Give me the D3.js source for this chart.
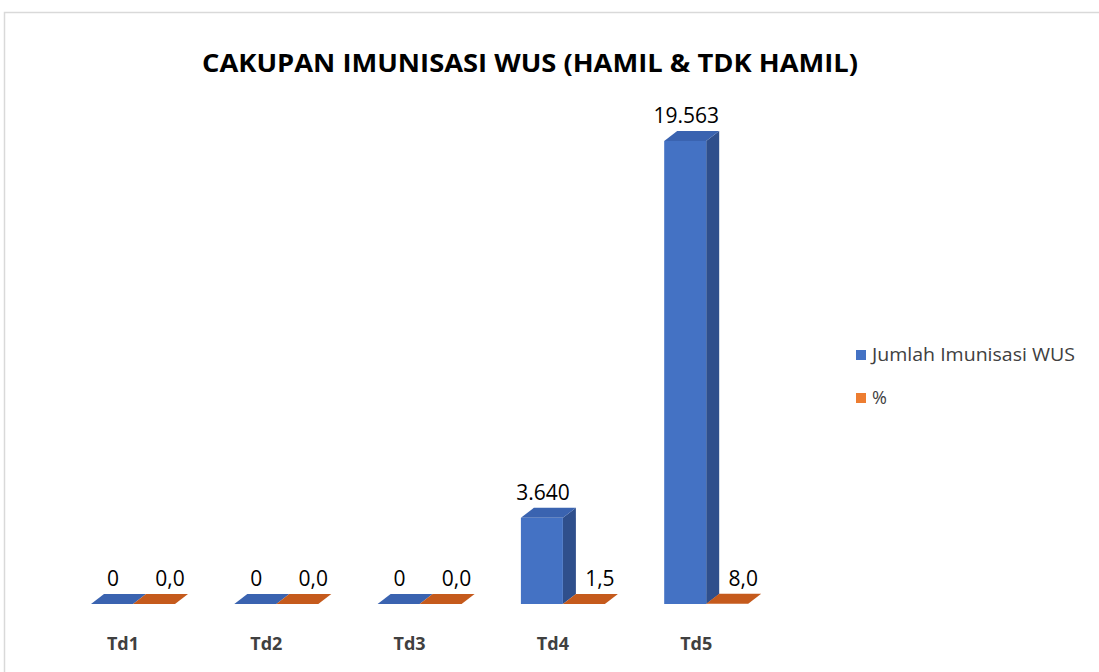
<!DOCTYPE html>
<html><head><meta charset="utf-8">
<script src="https://cdn.jsdelivr.net/npm/d3@7"></script>
<style>body{margin:0;background:#fff;}svg{display:block;}</style>
</head><body>
<svg id="c" width="1099" height="672"></svg>
<script>
const categories = ["Td1","Td2","Td3","Td4","Td5"];
const jumlah = [0,0,0,3640,19563];
const persen = [0,0,0,1.5,8.0];
const seriesNames = ["Jumlah Imunisasi WUS","%"];
const title = "CAKUPAN IMUNISASI WUS (HAMIL & TDK HAMIL)";

const svg = d3.select("#c");
const W = 1099, H = 672;
svg.append("rect").attr("width",W).attr("height",H).attr("fill","#fff");
// chart frame
svg.append("path").attr("d","M4.5,672 V12.5 H1099").attr("fill","none").attr("stroke","#d9d9d9").attr("stroke-width",1.5);

svg.append("text").attr("x",530).attr("y",72).attr("text-anchor","middle")
  .attr("font-family","'Open Sans', sans-serif").attr("font-weight","bold").attr("font-size",25)
  .attr("fill","#000").attr("textLength",656).attr("lengthAdjust","spacingAndGlyphs").text(title);

const y = d3.scaleLinear().domain([0,19563]).range([604,141]);
const x = d3.scaleBand().domain(categories).range([62, 62+5*143.3]);
const bw = 42, dx = 13, dy = -10;

const colors = [
  {front:"#4472c4", side:"#2f4f8c", top:"#3a63b0", legend:"#4472c4"},
  {front:"#ed7d31", side:"#a4521c", top:"#c55a1c", legend:"#ed7d31"}
];
const fmtJ = v => d3.format(",")(v).replace(/,/g,".");
const fmtP = v => d3.format(".1f")(v).replace(".",",");

function bar(g, x0, v, c) {
  const yb = y(0), yt = y(v);
  if (yb - yt > 0.5) {
    g.append("path").attr("d",`M${x0+bw},${yt} L${x0+bw+dx},${yt+dy} L${x0+bw+dx},${yb+dy} L${x0+bw},${yb} Z`).attr("fill",c.side);
    g.append("rect").attr("x",x0).attr("y",yt).attr("width",bw).attr("height",yb-yt).attr("fill",c.front);
  }
  g.append("path").attr("d",`M${x0},${yt} L${x0+dx},${yt+dy} L${x0+bw+dx},${yt+dy} L${x0+bw},${yt} Z`).attr("fill",c.top);
}

const g = svg.append("g");
categories.forEach((cat,i) => {
  const x0 = x(cat) + 29;
  bar(g, x0, jumlah[i], colors[0]);
  bar(g, x0 + bw, persen[i], colors[1]);
  // value labels
  g.append("text").attr("x", x0 + bw/2 + 1).attr("y", y(jumlah[i]) + dy - 8)
    .attr("text-anchor","middle").attr("font-family","'Open Sans', sans-serif").attr("font-size",21).attr("fill","#000")
    .text(fmtJ(jumlah[i]));
  g.append("text").attr("x", x0 + bw + bw/2 + 16).attr("y", y(persen[i]) + dy - 8)
    .attr("text-anchor","middle").attr("font-family","'Open Sans', sans-serif").attr("font-size",21).attr("fill","#000")
    .text(fmtP(persen[i]));
  g.append("text").attr("x", x(cat) + 61).attr("y", 650)
    .attr("text-anchor","middle").attr("font-family","'Open Sans', sans-serif").attr("font-weight","bold").attr("font-size",18).attr("fill","#404040")
    .text(cat);
});

// legend
const lg = svg.append("g");
seriesNames.forEach((n,i) => {
  const yy = 355 + i*43;
  lg.append("rect").attr("x",856).attr("y",yy-5).attr("width",10).attr("height",10).attr("fill",colors[i].legend);
  const t = lg.append("text").attr("x",872).attr("y",yy+6).attr("font-family","'Open Sans', sans-serif").attr("font-size",18).attr("fill","#404040").text(n);
  if (i === 0) t.attr("textLength",203).attr("lengthAdjust","spacingAndGlyphs");
});
</script>
</body></html>
